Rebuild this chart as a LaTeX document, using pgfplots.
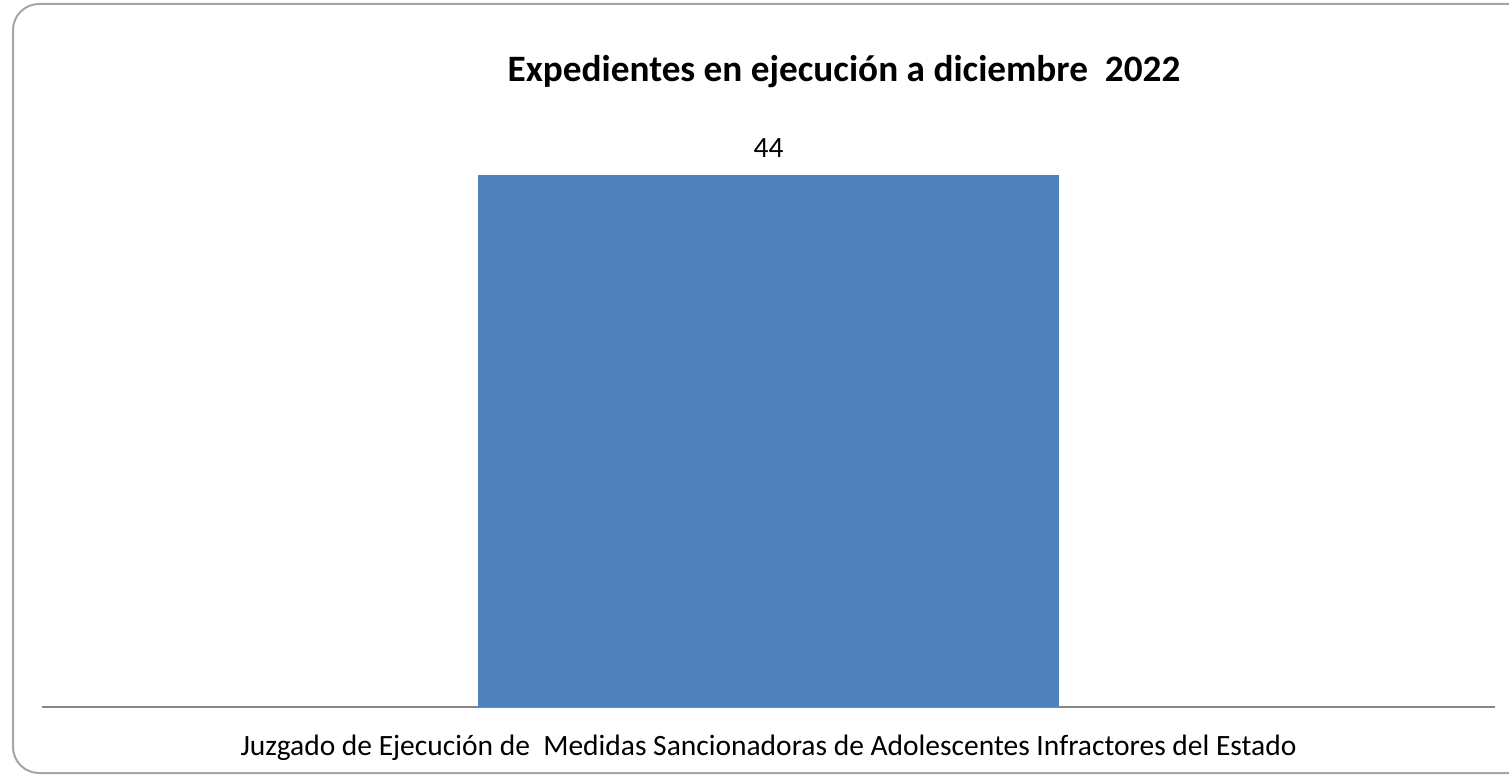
\documentclass[border=0pt]{standalone}
\usepackage{fontspec}
\setmainfont{Carlito}
\usepackage{pgfplots}
\pgfplotsset{compat=1.18}
\definecolor{barblue}{HTML}{4F81BD}
\definecolor{axisgray}{HTML}{868686}
\definecolor{framegray}{HTML}{A5A5A5}
\begin{document}
\begin{tikzpicture}
% page = 1509x775 px at 0.5bp per px
\useasboundingbox (0,0) rectangle (754.5bp,387.5bp);
\draw[framegray, line width=1bp, rounded corners=13bp] (6.5bp,1bp) rectangle (900bp,385.5bp);
\begin{axis}[
    at={(21bp,34bp)},
    anchor=south west,
    scale only axis,
    width=726.5bp,
    height=302.25bp,
    ybar,
    bar width=290.5bp,
    xmin=-1.25, xmax=1.25,
    ymin=0, ymax=50,
    axis x line=bottom,
    hide y axis,
    x axis line style={-, draw=axisgray, line width=1bp},
    xtick=\empty,
    /pgf/number format/assume math mode=true,
    title={\fontsize{18.7}{22}\selectfont\bfseries Expedientes en ejecución a diciembre\ \ 2022},
    every axis title/.style={at={(0.552,1)}, anchor=base, yshift=10.4bp, inner sep=0pt},
    xlabel={\fontsize{14.8}{17}\selectfont Juzgado de Ejecución de\ \ Medidas Sancionadoras de Adolescentes Infractores del Estado},
    every axis x label/.style={at={(0.5,0)}, anchor=base, yshift=-24.5bp, inner sep=0pt},
    nodes near coords,
    nodes near coords style={font=\fontsize{14.8}{17}\selectfont, anchor=base, yshift=9bp, inner sep=0pt},
    clip=false,
]
\addplot[fill=barblue, draw=none] coordinates {(0,44)};
\end{axis}
\end{tikzpicture}
\end{document}
